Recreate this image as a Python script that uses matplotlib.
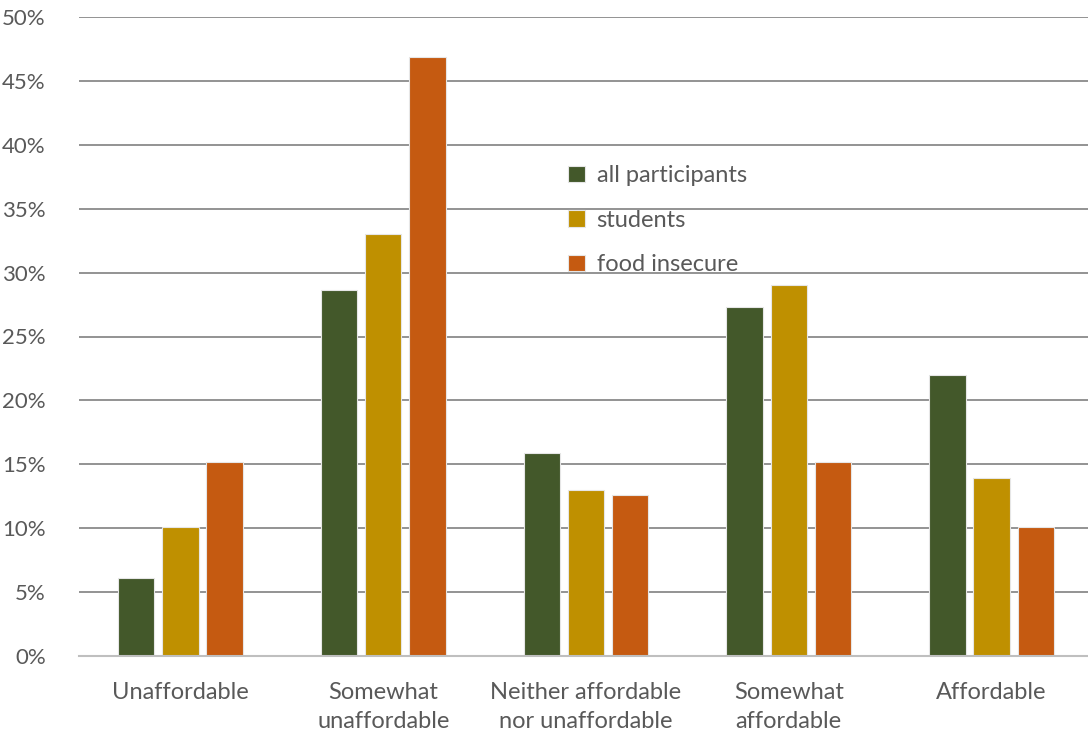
import matplotlib
matplotlib.use("Agg")
import matplotlib.pyplot as plt
import numpy as np
from matplotlib.ticker import FuncFormatter

plt.rcParams['font.family'] = ['Lato', 'DejaVu Sans']

kategorijos = ["Unaffordable", "Somewhat\nunaffordable", "Neither affordable\nnor unaffordable",
               "Somewhat\naffordable", "Affordable"]
visi = [6.1, 28.6, 15.9, 27.3, 22.0]
studentai = [10.1, 33.0, 13.0, 29.0, 13.9]
nesaugus = [15.2, 46.9, 12.6, 15.2, 10.1]

serijos = [("all participants", visi, "#43582A"),
           ("students", studentai, "#BF9000"),
           ("food insecure", nesaugus, "#C55A11")]

fig = plt.figure(figsize=(10.88, 7.38), dpi=100)
ax = fig.add_axes([79/1088, 1 - 656/738, 1014/1088, 639/738])

x = np.arange(len(kategorijos))
for i, (vardas, reiksmes, spalva) in enumerate(serijos):
    ax.bar(x + (i - 1) * 0.218, reiksmes, 0.18, color=spalva, label=vardas,
           edgecolor="#E6E6E6", linewidth=0.8, zorder=3)

ax.set_xlim(-0.5, 4.5)
ax.set_ylim(0, 50)
ax.set_yticks(np.arange(0, 51, 5))
ax.yaxis.set_major_formatter(FuncFormatter(lambda v, p: f"{v:.0f}%"))
ax.set_xticks(x)
ax.set_xticklabels(kategorijos, fontsize=17, color="#595959", linespacing=1.45)
ax.tick_params(axis="y", labelsize=16, labelcolor="#595959", length=0, pad=24)
ax.tick_params(axis="x", length=0, pad=19)
ax.grid(axis="y", color="#808080", linewidth=1.2, zorder=0)
for s in ["top", "right", "left"]:
    ax.spines[s].set_visible(False)
ax.spines["bottom"].set_color("#BFBFBF")
ax.spines["bottom"].set_linewidth(1.5)
ax.spines["bottom"].set_zorder(4)

leg = ax.legend(loc="upper left", bbox_to_anchor=((547-79)/1014, (656-144)/639), frameon=False,
                fontsize=17, labelcolor="#595959", handlelength=0.7, handleheight=0.7,
                labelspacing=1.0, handletextpad=0.5)

fig.savefig("out.png", dpi=100)
